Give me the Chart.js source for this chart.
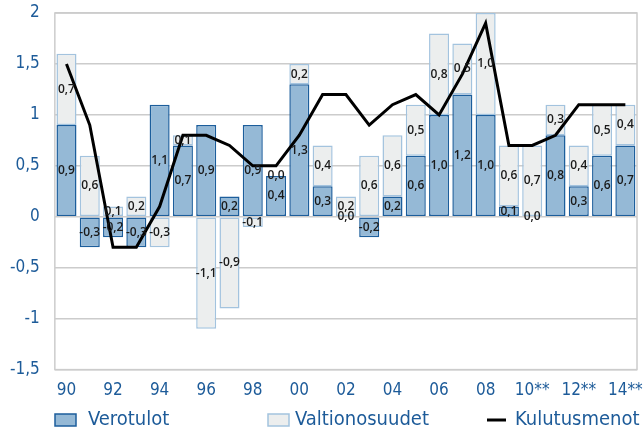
<!DOCTYPE html>
<html>
<head>
<meta charset="utf-8">
<script src="https://cdn.jsdelivr.net/npm/chart.js@4.4.0/dist/chart.umd.min.js"></script>
<style>
  html, body { margin: 0; padding: 0; background: #fff; }
  #wrap { width: 644px; height: 435px; }
</style>
</head>
<body>
<div id="wrap"><canvas id="chart"></canvas></div>
<script>
// vuodet 1990-2014
const years = ['90','91','92','93','94','95','96','97','98','99','00','01','02','03','04','05','06','07','08','09','10**','11**','12**','13**','14**'];
const verotulot = [0.9,-0.3,-0.2,-0.3,1.1,0.7,0.9,0.2,0.9,0.4,1.3,0.3,0.0,-0.2,0.2,0.6,1.0,1.2,1.0,0.1,0.0,0.8,0.3,0.6,0.7];
const valtionosuudet = [0.7,0.6,0.1,0.2,-0.3,0.1,-1.1,-0.9,-0.1,0.0,0.2,0.4,0.2,0.6,0.6,0.5,0.8,0.5,1.0,0.6,0.7,0.3,0.4,0.5,0.4];
const kulutusmenot = [1.5,0.9,-0.3,-0.3,0.1,0.8,0.8,0.7,0.5,0.5,0.8,1.2,1.2,0.9,1.1,1.2,1.0,1.4,1.9,0.7,0.7,0.8,1.1,1.1,1.1];

const BLUE = '#1d5b99';
const FONT = '"Liberation Sans Narrow", "DejaVu Sans Condensed", sans-serif';

const fmt = v => v.toFixed(1).replace('.', ',');

// value labels inside bars
const barLabels = {
  id: 'barLabels',
  afterDatasetsDraw(chart) {
    const ctx = chart.ctx;
    ctx.save();
    ctx.font = '600 12px "Open Sans", sans-serif';
    ctx.fillStyle = '#1a1a1a';
    ctx.textAlign = 'center';
    ctx.textBaseline = 'middle';
    [0, 1].forEach(di => {
      const meta = chart.getDatasetMeta(di);
      meta.data.forEach((bar, i) => {
        const p = bar.getProps(['x', 'y', 'base'], true);
        ctx.fillText(fmt(chart.data.datasets[di].data[i]), p.x, (p.y + p.base) / 2);
      });
    });
    ctx.restore();
  }
};

// grey frame round the plot
const frame = {
  id: 'frame',
  beforeDatasetsDraw(chart) {
    const a = chart.chartArea, ctx = chart.ctx;
    ctx.save();
    ctx.strokeStyle = '#cccccc';
    ctx.lineWidth = 1.5;
    ctx.strokeRect(a.left, a.top, a.right - a.left, a.bottom - a.top);
    ctx.restore();
  }
};

// legend spread like the original (one row under the axis)
const legendX = [55, 268, 487];
const spreadLegend = {
  id: 'spreadLegend',
  afterDraw(chart) {
    const ctx = chart.ctx;
    const y = chart.height - 15;
    ctx.save();
    ctx.font = '20px ' + FONT;
    ctx.textBaseline = 'middle';
    ctx.textAlign = 'left';
    chart.data.datasets.forEach((ds, i) => {
      const x = legendX[i];
      if (ds.type === 'line') {
        ctx.strokeStyle = ds.borderColor;
        ctx.lineWidth = ds.borderWidth;
        ctx.beginPath();
        ctx.moveTo(x, y);
        ctx.lineTo(x + 19, y);
        ctx.stroke();
        ctx.fillStyle = BLUE;
        ctx.fillText(ds.label, x + 28, y);
      } else {
        ctx.fillStyle = ds.backgroundColor;
        ctx.fillRect(x, y - 6, 21, 12);
        ctx.strokeStyle = ds.borderColor;
        ctx.lineWidth = 1.5;
        ctx.strokeRect(x, y - 6, 21, 12);
        ctx.fillStyle = BLUE;
        ctx.fillText(ds.label, x + (i === 0 ? 33 : 27), y);
      }
    });
    ctx.restore();
  }
};

const ctx = document.getElementById('chart').getContext('2d');
const myChart = new Chart(ctx, {
  data: {
    labels: years,
    datasets: [
      {
        type: 'bar',
        label: 'Verotulot',
        data: verotulot,
        backgroundColor: '#95b9d6',
        borderColor: '#1c5e9c',
        borderWidth: 1.5,
        borderSkipped: false,
        order: 1
      },
      {
        type: 'bar',
        label: 'Valtionosuudet',
        data: valtionosuudet,
        backgroundColor: '#eceeee',
        borderColor: '#a3c3de',
        borderWidth: 1.5,
        borderSkipped: false,
        order: 1
      },
      {
        type: 'line',
        label: 'Kulutusmenot',
        data: kulutusmenot,
        borderColor: '#000',
        backgroundColor: '#000',
        borderWidth: 3,
        pointRadius: 0,
        tension: 0,
        stack: 'line',
        order: 0
      }
    ]
  },
  options: {
    responsive: true,
    maintainAspectRatio: false,
    animation: false,
    layout: { padding: { top: 0, right: 7, left: 0, bottom: 23 } },
    datasets: { bar: { barPercentage: 0.86, categoryPercentage: 1 } },
    scales: {
      x: {
        stacked: true,
        grid: { display: false, drawTicks: false },
        border: { display: false },
        ticks: {
          autoSkip: false,
          maxRotation: 0,
          color: BLUE,
          font: { family: FONT, size: 17 },
          padding: 11,
          callback: function (v, i) { return i % 2 === 0 ? years[i] : ''; }
        },
        afterFit: s => { s.paddingLeft = 0; s.paddingRight = 0; }
      },
      y: {
        stacked: true,
        min: -1.5,
        max: 2,
        grid: { color: '#cccccc', lineWidth: 1.5, drawTicks: false },
        border: { display: false },
        ticks: {
          stepSize: 0.5,
          color: BLUE,
          padding: 15,
          font: { family: FONT, size: 17 },
          callback: v => String(v).replace('.', ',')
        },
        afterFit: s => { s.paddingTop = 13; s.paddingBottom = 0; s.width = s.width - 5; }
      }
    },
    plugins: {
      tooltip: { enabled: false },
      legend: { display: false }
    }
  },
  plugins: [frame, barLabels, spreadLegend]
});
</script>
</body>
</html>
